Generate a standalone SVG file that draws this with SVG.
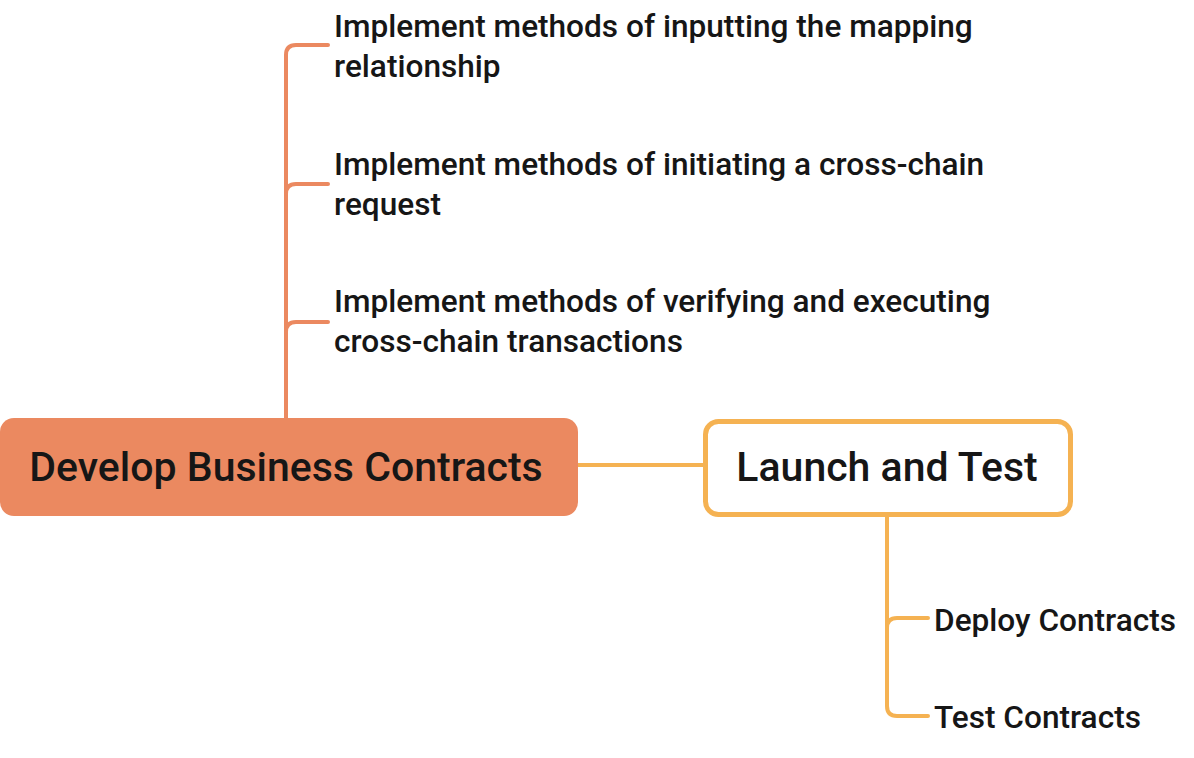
<svg xmlns="http://www.w3.org/2000/svg" width="1194" height="758" viewBox="0 0 1194 758">
<style>
.t{font-family:Roboto,"Liberation Sans",sans-serif;fill:#161616;font-weight:500}
.main{font-size:41px}
.sub{font-size:31.6px}
.co{fill:none;stroke:#EB8960;stroke-width:4;stroke-linecap:round}
.cy{fill:none;stroke:#F5B252;stroke-width:4;stroke-linecap:round}
</style>
<rect width="1194" height="758" fill="#ffffff"/>
<g id="connectors">
<path class="co" d="M286,418 V55 Q286,45 296,45 H328"/>
<path class="co" d="M286,194 Q286,184 296,184 H328"/>
<path class="co" d="M286,332 Q286,322 296,322 H328"/>
<path class="cy" d="M578,465 H704"/>
<path class="cy" d="M887,516 V706 Q887,716 897,716 H928"/>
<path class="cy" d="M887,628 Q887,618 897,618 H928"/>
</g>
<g id="develop">
<rect x="0" y="418" width="578" height="98" rx="14" fill="#EB8960"/>
<text class="t main" x="286" y="481" text-anchor="middle">Develop Business Contracts</text>
</g>
<g id="launch">
<rect x="705.5" y="421.5" width="365" height="93" rx="13" fill="#ffffff" stroke="#F5B252" stroke-width="5"/>
<text class="t main" x="887" y="481" text-anchor="middle">Launch and Test</text>
</g>
<g id="c1">
<text class="t sub" x="334" y="37">Implement methods of inputting the mapping</text>
<text class="t sub" x="334" y="77">relationship</text>
</g>
<g id="c2">
<text class="t sub" x="334" y="175">Implement methods of initiating a cross-chain</text>
<text class="t sub" x="334" y="215">request</text>
</g>
<g id="c3">
<text class="t sub" x="334" y="312">Implement methods of verifying and executing</text>
<text class="t sub" x="334" y="352">cross-chain transactions</text>
</g>
<g id="deploy">
<text class="t sub" x="934" y="631">Deploy Contracts</text>
</g>
<g id="test">
<text class="t sub" x="934" y="728">Test Contracts</text>
</g>
</svg>
